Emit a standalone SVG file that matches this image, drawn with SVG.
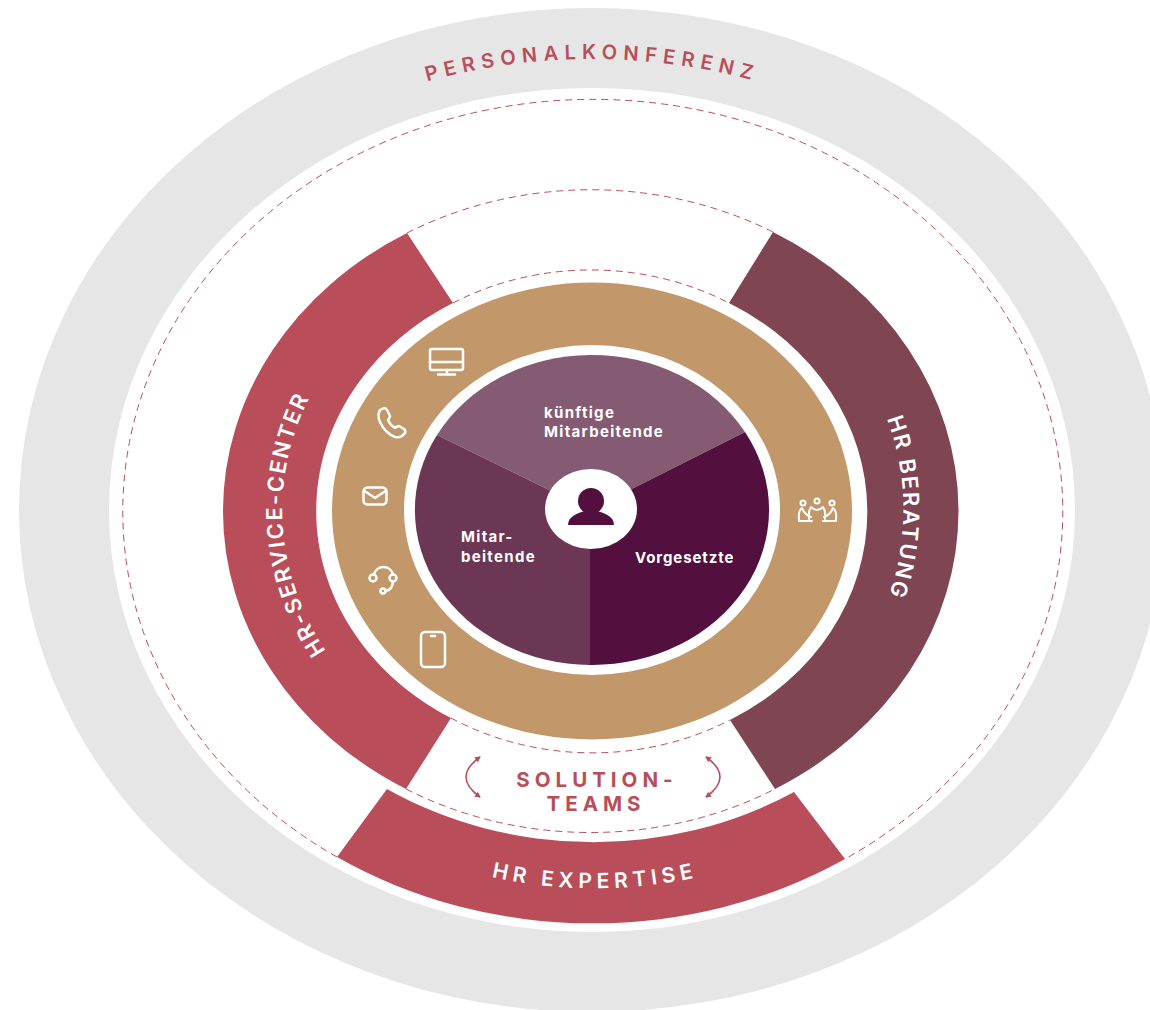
<svg xmlns="http://www.w3.org/2000/svg" width="1150" height="1010" viewBox="0 0 1150 1010">
<style>
.dash{fill:none;stroke:#b94e5a;stroke-width:1;stroke-dasharray:7 5}
.ic{fill:none;stroke:#fff;stroke-width:2.500;stroke-linecap:round;stroke-linejoin:round}
.lab{font-family:Inter,"Liberation Sans",sans-serif;font-weight:600}
.pie{font-family:Inter,"Liberation Sans",sans-serif;font-weight:700;font-size:15px;fill:#fff;letter-spacing:1.300px}
.w{fill:#fff}.r{fill:#b94e5a}
.arr{fill:none;stroke:#b94e5a;stroke-width:1.600}
</style>
<defs>
<path id="pK" d="M62,510 A530,451 0 0 1 1122,510"/>
<path id="pS" d="M392,720 A310,275 0 0 1 358,330"/>
<path id="pB" d="M805,302 A311,285 0 0 1 805,718"/>
<path id="pE" d="M295,778 A425,378 0 0 0 895,778"/>
<marker id="ah" viewBox="0 0 8 8" refX="6" refY="4" markerWidth="7" markerHeight="7" orient="auto-start-reverse" markerUnits="userSpaceOnUse"><path d="M0.500,0.500 L7,4 L0.500,7.500 Z" fill="#b94e5a"/></marker>
</defs>
<rect width="1150" height="1010" fill="#fff"/>
<g id="personalkonferenz">
<ellipse cx="592" cy="510" rx="573" ry="502" fill="#e6e6e6"/>
<ellipse cx="592" cy="510" rx="483" ry="422" fill="#fff"/>
<text class="lab r" font-size="20" letter-spacing="6.200"><textPath href="#pK" startOffset="50%" text-anchor="middle">PERSONALKONFERENZ</textPath></text>
</g>
<g id="connectors">
<path class="dash" d="M337,857 A470,412 0 1 1 845,859"/>
<path class="dash" d="M407,233 A367,321 0 0 1 773,232"/>
<path class="dash" d="M406,789 A367,321 0 0 0 775,789"/>
<path class="dash" d="M453,303 A273,241 0 0 1 729,303"/>
<path class="dash" d="M451,718 A273,241 0 0 0 730,720"/>
<path class="arr" marker-start="url(#ah)" marker-end="url(#ah)" d="M480,757 Q452,777 480,797"/>
<path class="arr" marker-start="url(#ah)" marker-end="url(#ah)" d="M706,757 Q734,777 706,797"/>
</g>
<g id="hr-service-center">
<path class="r" d="M407,233 A367,321 0 0 0 406,789 L451,718 A273,240 0 0 1 453,303 Z"/>
<text class="lab w" font-size="22" letter-spacing="2"><textPath href="#pS" startOffset="51.500%" text-anchor="middle">HR-SERVICE-CENTER</textPath></text>
</g>
<g id="hr-beratung">
<path fill="#804553" d="M773,232 A367,321 0 0 1 775,789 L730,720 A273,240 0 0 0 729,303 Z"/>
<text class="lab w" font-size="22" letter-spacing="2.300"><textPath href="#pB" startOffset="49.500%" text-anchor="middle">HR BERATUNG</textPath></text>
</g>
<g id="hr-expertise">
<path class="r" d="M337,857 A470,412 0 0 0 845,859 L794,792 A380,332 0 0 1 387,789 Z"/>
<text class="lab w" font-size="21" letter-spacing="5"><textPath href="#pE" startOffset="50%" text-anchor="middle">HR EXPERTISE</textPath></text>
</g>
<g id="solution-teams">
<text class="lab r" font-size="20.500" style="font-weight:700" letter-spacing="5" text-anchor="middle" x="597" y="787">SOLUTION-</text>
<text class="lab r" font-size="20.500" style="font-weight:700" letter-spacing="5" text-anchor="middle" x="596" y="811">TEAMS</text>
</g>
<g id="channels">
<ellipse cx="592" cy="511" rx="260" ry="228.500" fill="#c2976a"/>
<g id="icon-monitor" class="ic"><rect x="430" y="349" width="33" height="21" rx="2"/><path d="M430,362H463M447,370V374M438,374.500H455"/></g>
<g id="icon-phone" class="ic"><path d="M380,410 l4,-2 q2,0 3,2 l3,6 q0,2 -2,4 q2,5 7,8 q2,-2 4,-2 l5,3 q2,2 1,4 l-3,3 q-3,2 -7,1 q-10,-4 -15,-15 q-3,-7 0,-12 z"/></g>
<g id="icon-mail" class="ic"><rect x="363.500" y="487.500" width="23" height="17" rx="4"/><path d="M364.500,491 L375,498 L385.500,491"/></g>
<g id="icon-headset" class="ic"><path d="M374,574 A10,10 0 0 1 393,574"/><circle cx="373" cy="578" r="3.500"/><circle cx="393" cy="578" r="3.500"/><path d="M393,582 Q392,590 386,591"/><circle cx="383" cy="591" r="2.500"/></g>
<g id="icon-smartphone" class="ic"><rect x="421" y="632" width="24" height="35" rx="4"/><path d="M431,636H435"/></g>
<g id="icon-meeting" class="ic" style="stroke-width:2px"><circle cx="803" cy="503" r="2.500"/><circle cx="817" cy="501" r="2.500"/><circle cx="832" cy="503" r="2.500"/><path d="M799,520 Q798,511 802,508 Q805,515 811,517 M809,519 Q808,511 811,507 Q817,513 823,507 Q826,511 825,519 M836,520 Q837,511 833,508 Q830,515 824,517 M799,521H812M823,521H836"/></g>
</g>
<g id="target-groups">
<ellipse cx="592" cy="510" rx="188" ry="165" fill="#fff"/>
<g id="kuenftige-mitarbeitende"><path fill="#855a73" d="M590,510 L437,435 A177,155 0 0 1 745,432 Z"/>
<text class="pie" x="544" y="418">künftige</text><text class="pie" x="544" y="437">Mitarbeitende</text></g>
<g id="vorgesetzte"><path fill="#53103e" d="M590,510 L745,432 A177,155 0 0 1 590,665 Z"/>
<text class="pie" style="letter-spacing:.9px" x="635" y="563">Vorgesetzte</text></g>
<g id="mitarbeitende"><path fill="#6b3755" d="M590,510 L590,665 A177,155 0 0 1 437,435 Z"/>
<text class="pie" x="461" y="542">Mitar-</text><text class="pie" x="461" y="562">beitende</text></g>
<g id="person"><ellipse cx="591" cy="509" rx="46" ry="40" fill="#fff"/>
<circle cx="591" cy="501" r="13" fill="#53103e"/>
<path fill="#53103e" d="M568,525 C568,516 578,513 585,511 H597 C604,513 614,516 614,525 Z"/></g>
</g>
</svg>
